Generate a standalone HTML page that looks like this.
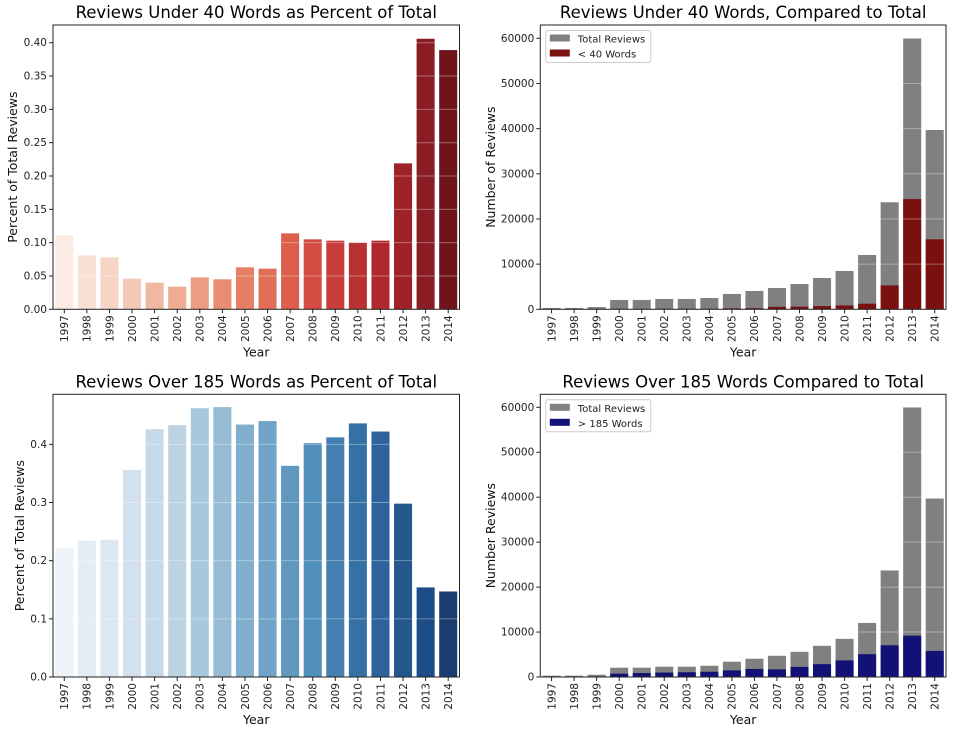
<!DOCTYPE html>
<html><head><meta charset="utf-8"><style>
body{margin:0;background:#fff;width:956px;height:734px;overflow:hidden}
svg{font-family:"DejaVu Sans","Liberation Sans",sans-serif}
</style></head><body>
<svg id="fig" width="956" height="734" viewBox="0 0 956 734"></svg>
<script>
const years = ["1997","1998","1999","2000","2001","2002","2003","2004","2005","2006","2007","2008","2009","2010","2011","2012","2013","2014"];
const pctUnder40 = [0.111,0.081,0.078,0.046,0.040,0.034,0.048,0.045,0.063,0.061,0.114,0.105,0.103,0.100,0.103,0.219,0.406,0.389];
const pctOver185 = [0.222,0.234,0.236,0.356,0.426,0.433,0.462,0.464,0.434,0.440,0.363,0.402,0.412,0.436,0.422,0.298,0.154,0.147];
const totalReviews = [300,300,500,2070,2070,2290,2290,2500,3400,4060,4720,5600,6940,8490,12030,23700,60000,39700];
const countUnder40 = [30,25,40,95,85,80,110,110,215,250,540,590,720,850,1240,5300,24400,15500];
const countOver185 = [0,70,120,740,880,990,1060,1160,1480,1790,1710,2250,2860,3700,5080,7060,9200,5800];
const ticksPct1 = [0,0.05,0.10,0.15,0.20,0.25,0.30,0.35,0.40];
const ticksPct2 = [0,0.1,0.2,0.3,0.4];
const ticksCount = [0,10000,20000,30000,40000,50000,60000];
const redsPal = ["#fbebe3","#f8e0d5","#f6d5c6","#f3c8b5","#f0b8a1","#eeac92","#ec9c80","#e98d72","#e67f64","#e36e57","#dd5e4c","#d54c42","#c63f3a","#b93233","#b0282d","#9e2328","#8a1d24","#6d151b"];
const bluesPal = ["#eef3fa","#e4ecf6","#dde7f2","#d3e1ee","#c6d9e8","#bbd3e3","#a8c9dd","#97bcd5","#82aecd","#6fa4c8","#6098bf","#5090bb","#4480b2","#3671a6","#2d639a","#24578d","#1c4c85","#1a3c6e"];

const NS="http://www.w3.org/2000/svg";
const svg=document.getElementById('fig');
function mk(tag,attrs,parent,text){const e=document.createElementNS(NS,tag);for(const k in attrs)e.setAttribute(k,attrs[k]);if(text!==undefined)e.textContent=text;(parent||svg).appendChild(e);return e;}

function panel(opt){
  const g=mk('g',{});
  
  
  const {x0,x1,y0,y1,ymax}=opt;
  const n=years.length, slot=(x1-x0)/n, bw=slot*0.8;
  const xc=i=>x0+slot*(i+0.5);
  const ys=v=>y1-(v/ymax)*(y1-y0);
  const t=mk('text',{x:(x0+x1)/2,y:y0-7,'text-anchor':'middle','font-size':'16.5',fill:'#000'},g,opt.title);
  
  
  // series bars
  opt.series.forEach(s=>{
    s.vals.forEach((v,i)=>{
      const r=mk('rect',{x:xc(i)-bw/2,y:ys(v),width:bw,height:y1-ys(v),fill:s.colors?s.colors[i]:s.color},g);
      
      
    });
  });
  // gridlines over bars
  opt.ticks.forEach(tv=>{
    if(tv===0)return;
    const l=mk('line',{x1:x0,x2:x1,y1:ys(tv),y2:ys(tv),stroke:'#fff','stroke-opacity':'0.35','stroke-width':'1'},g);
    
    
  });
  const fr=mk('rect',{x:x0,y:y0,width:x1-x0,height:y1-y0,fill:'none',stroke:'#222','stroke-width':'1'},g);
  
  
  opt.ticks.forEach(tv=>{
    mk('line',{x1:x0-4,x2:x0,y1:ys(tv),y2:ys(tv),stroke:'#222'},g);
    const tl=mk('text',{x:x0-6,y:ys(tv)+3.5,'text-anchor':'end','font-size':'10.5',fill:'#222'},g,opt.fmt(tv));
    
    
  });
  years.forEach((yr,i)=>{
    mk('line',{x1:xc(i),x2:xc(i),y1:y1,y2:y1+4,stroke:'#222'},g);
    const tl=mk('text',{transform:`translate(${xc(i)+3.8},${y1+6}) rotate(-90)`,'text-anchor':'end','font-size':'10.5',fill:'#222'},g,yr);
    
    
  });
  const xl=mk('text',{x:(x0+x1)/2,y:y1+47,'text-anchor':'middle','font-size':'12.5',fill:'#111'},g,'Year');
  
  
  const yl=mk('text',{transform:`translate(${opt.ylx},${(y0+y1)/2}) rotate(-90)`,'text-anchor':'middle','font-size':'12.5',fill:'#111'},g,opt.ylabel);
  
  
  if(opt.legend){
    const lg=mk('g',{},g);
    
    
    const lx=x0+5.5, ly=y0+5.5;
    mk('rect',{x:lx,y:ly,width:105,height:32,fill:'#fff',stroke:'#ccc','stroke-width':'1',rx:2},lg);
    opt.legend.forEach((it,k)=>{
      const sw=mk('rect',{x:lx+4,y:ly+4+k*15,width:20,height:7,fill:it.color},lg);
      
      
      const lt=mk('text',{x:lx+32,y:ly+12+k*15,'font-size':'10','fill':'#222'},lg,it.label);
      
      
    });
  }
}

panel({name:'chart-under40-percent',title:'Reviews Under 40 Words as Percent of Total',x0:53,x1:459.5,y0:25,y1:309.3,ymax:0.4266,
  ticks:ticksPct1,fmt:v=>v.toFixed(2),ylabel:'Percent of Total Reviews',ylx:17,
  series:[{key:'under40-pct',vals:pctUnder40,colors:redsPal}]});
panel({name:'chart-under40-count',title:'Reviews Under 40 Words, Compared to Total',x0:540.3,x1:946,y0:25,y1:309.3,ymax:62950,
  ticks:ticksCount,fmt:v=>String(v),ylabel:'Number of Reviews',ylx:495,
  series:[{key:'total',vals:totalReviews,color:'#808080'},{key:'under40',vals:countUnder40,color:'#7a1010'}],
  legend:[{label:'Total Reviews',color:'#808080'},{label:'< 40 Words',color:'#7a1010'}]});
panel({name:'chart-over185-percent',title:'Reviews Over 185 Words as Percent of Total',x0:53,x1:459.5,y0:394.3,y1:677,ymax:0.486,
  ticks:ticksPct2,fmt:v=>v.toFixed(1),ylabel:'Percent of Total Reviews',ylx:24,
  series:[{key:'over185-pct',vals:pctOver185,colors:bluesPal}]});
panel({name:'chart-over185-count',title:'Reviews Over 185 Words Compared to Total',x0:540.3,x1:946,y0:394.3,y1:677,ymax:62890,
  ticks:ticksCount,fmt:v=>String(v),ylabel:'Number Reviews',ylx:495,
  series:[{key:'total',vals:totalReviews,color:'#808080'},{key:'over185',vals:countOver185,color:'#121276'}],
  legend:[{label:'Total Reviews',color:'#808080'},{label:'> 185 Words',color:'#121276'}]});
</script>
</body></html>
